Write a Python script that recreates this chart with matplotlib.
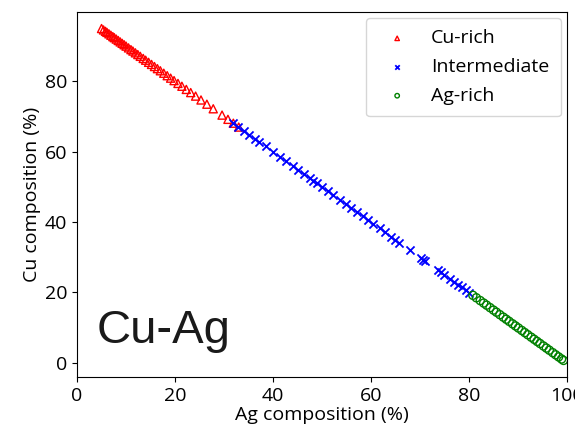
import matplotlib
matplotlib.use('Agg')
import matplotlib.pyplot as plt

# Composições (%)
ag_cu_rich = [5.0, 5.4, 5.8, 6.1, 6.5, 6.9, 7.3, 7.6, 8.0, 8.4, 8.8, 9.2, 9.6, 10.0,
              10.5, 11.0, 11.4, 11.9, 12.4, 12.9, 13.5, 14.0, 14.6, 15.2, 15.8, 16.4,
              17.0, 17.7, 18.4, 19.1, 19.8, 20.6, 21.4, 22.3, 23.2, 24.2, 25.3, 26.5,
              27.8, 29.6, 30.8, 31.9, 33.0]
cu_cu_rich = [95.0, 94.6, 94.2, 93.9, 93.5, 93.1, 92.7, 92.4, 92.0, 91.6, 91.2, 90.8, 90.4, 90.0,
              89.5, 89.0, 88.6, 88.1, 87.6, 87.1, 86.5, 86.0, 85.4, 84.8, 84.2, 83.6,
              83.0, 82.3, 81.6, 80.9, 80.2, 79.4, 78.6, 77.7, 76.8, 75.8, 74.7, 73.5,
              72.2, 70.4, 69.2, 68.1, 67.0]

ag_inter = [31.8, 32.9, 34.0, 35.2, 36.4, 37.2, 38.5, 40.1, 41.4, 42.6, 44.0, 45.1,
            46.3, 47.5, 48.2, 49.0, 50.1, 51.3, 52.2, 53.6, 54.8, 56.0, 57.1, 58.4,
            59.3, 60.5, 61.8, 62.9, 64.1, 65.0, 65.8, 67.9, 70.2, 70.7, 71.0, 73.6,
            74.2, 74.9, 76.2, 77.0, 77.8, 78.5, 79.3, 80.1]
cu_inter = [68.2, 67.1, 66.0, 64.8, 63.6, 62.8, 61.5, 59.9, 58.6, 57.4, 56.0, 54.9,
            53.7, 52.5, 51.8, 51.0, 49.9, 48.7, 47.8, 46.4, 45.2, 44.0, 42.9, 41.6,
            40.7, 39.5, 38.2, 37.1, 35.9, 35.0, 34.2, 32.1, 29.8, 29.3, 29.0, 26.4,
            25.8, 25.1, 23.8, 23.0, 22.2, 21.5, 20.7, 19.9]

ag_ag_rich = [80.8, 81.5, 82.3, 83.0, 83.6, 84.3, 85.0, 85.6, 86.3, 87.0, 87.6, 88.2,
              88.9, 89.5, 90.1, 90.8, 91.4, 92.0, 92.7, 93.3, 93.9, 94.5, 95.2, 95.8,
              96.4, 97.1, 97.7, 98.3, 98.9, 99.3]
cu_ag_rich = [19.2, 18.5, 17.7, 17.0, 16.4, 15.7, 15.0, 14.4, 13.7, 13.0, 12.4, 11.8,
              11.1, 10.5, 9.9, 9.2, 8.6, 8.0, 7.3, 6.7, 6.1, 5.5, 4.8, 4.2,
              3.6, 2.9, 2.3, 1.7, 1.1, 0.7]

plt.rcParams['font.family'] = ['Open Sans', 'DejaVu Sans']

fig = plt.figure(figsize=(5.75, 4.26), dpi=100)
ax = fig.add_axes([0.134, 0.115, 0.852, 0.857])

ax.scatter(ag_cu_rich, cu_cu_rich, marker='^', facecolors='none', edgecolors='red',
           s=34, linewidths=1, label='Cu-rich')
ax.scatter(ag_inter, cu_inter, marker='x', color='blue', s=34, linewidths=1.3,
           label='Intermediate')
ax.scatter(ag_ag_rich, cu_ag_rich, marker='o', facecolors='none', edgecolors='green',
           s=34, linewidths=1, label='Ag-rich')

ax.set_xlim(0, 100)
ax.set_xlabel('Ag composition (%)', fontsize=14, labelpad=1)
ax.set_ylabel('Cu composition (%)', fontsize=14, labelpad=3)
ax.tick_params(labelsize=14)

ax.legend(loc='upper right', fontsize=14, markerscale=0.55, handletextpad=0.75,
          borderpad=0.6, labelspacing=0.55, borderaxespad=0.3)

ax.text(0.04, 0.093, 'Cu-Ag', transform=ax.transAxes, fontsize=34,
        family='Liberation Sans', va='baseline', ha='left', color='#1a1a1a')

plt.savefig('out.png', dpi=100)
